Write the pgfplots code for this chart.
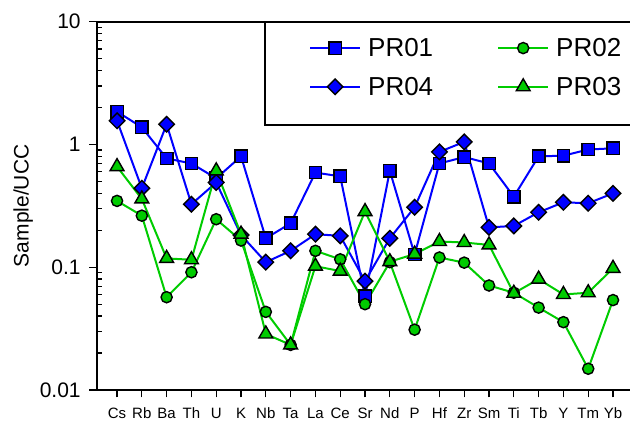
\documentclass[border=0pt]{standalone}
\usepackage{pgfplots}
\pgfplotsset{compat=1.18}
\usepackage{fontspec}
\setmainfont{Liberation Sans}
\definecolor{pblue}{RGB}{0,0,255}
\definecolor{pgreen}{RGB}{0,204,0}
\pgfplotstableread{
x PRa PRd PRb PRc
0  1.85  1.56  0.347  0.66
1  1.38  0.44  0.263  0.36
2  0.77  1.46  0.057  0.118
3  0.70  0.326 0.091  0.115
4  0.53  0.49  0.246  0.61
5  0.80  0.183 0.165  0.186
6  0.172 0.11  0.0433 0.0286
7  0.228 0.136 0.0233 0.0233
8  0.59  0.186 0.136  0.102
9  0.55  0.18  0.116  0.093
10 0.058 0.077 0.050  0.284
11 0.61  0.172 0.11   0.111
12 0.127 0.308 0.031  0.128
13 0.70  0.87  0.12   0.162
14 0.79  1.05  0.109  0.159
15 0.70  0.211 0.071  0.152
16 0.376 0.217 0.062  0.0614
17 0.80  0.28  0.0469 0.080
18 0.81  0.338 0.0357 0.060
19 0.91  0.332 0.0149 0.062
20 0.93  0.40  0.054  0.098
}\data
\begin{document}
\begin{tikzpicture}
\begin{axis}[
  scale only axis, width=543.6pt, height=368.3pt,
  clip=false,
  ymode=log, ymin=0.01, ymax=10,
  xmin=-0.82, xmax=21.1,
  xtick={0,...,20},
  xticklabels={Cs,Rb,Ba,Th,U,K,Nb,Ta,La,Ce,Sr,Nd,P,Hf,Zr,Sm,Ti,Tb,Y,Tm,Yb},
  ytick={0.01,0.1,1,10}, yticklabels={0.01,0.1,1,10},
  minor ytick={0.02,0.03,0.04,0.05,0.06,0.07,0.08,0.09,0.2,0.3,0.4,0.5,0.6,0.7,0.8,0.9,2,3,4,5,6,7,8,9},
  tick align=outside, xtick pos=left, ytick pos=left,
  major tick length=7.5pt, minor tick length=5pt,
  minor y tick style={xshift=5pt},
  every tick/.style={black, line width=1.3pt},
  axis line style={line width=2.2pt},
  x tick label style={font=\fontsize{15}{18}\selectfont, yshift=-7pt},
  y tick label style={font=\fontsize{21}{25}\selectfont, xshift=-5pt},
  ylabel={Sample/UCC}, ylabel style={font=\fontsize{21}{25}\selectfont},
  legend columns=2,
  legend image code/.code={\draw[mark repeat=2,mark phase=2,#1] plot coordinates {(0pt,0pt) (25pt,0pt) (50pt,0pt)};},
  legend style={draw=none, fill=none, inner sep=0pt, at={(rel axis cs:0.3905,0.961)}, anchor=north west,
    font=\fontsize{26}{31}\selectfont, row sep=15pt,
    /tikz/every odd column/.append style={column sep=5pt},
    /tikz/every even column/.append style={column sep=62pt}},
  legend cell align=left,
]
\addplot[pblue, line width=2pt, mark=square*, mark size=6.2pt, mark options={fill=pblue, draw=black, line width=1.4pt}, forget plot] table[x=x,y=PRa] {\data};
\addplot[pblue, line width=2pt, mark=square*, mark size=5.5pt, mark options={rotate=45, fill=pblue, draw=black, line width=1.4pt}, forget plot] table[x=x,y=PRd] {\data};
\addplot[pgreen, line width=2pt, mark=*, mark size=5.6pt, mark options={fill=pgreen, draw=black, line width=1.4pt}, forget plot] table[x=x,y=PRb] {\data};
\addplot[pgreen, line width=2pt, mark=triangle*, mark size=8pt, mark options={fill=pgreen, draw=black, line width=1.4pt}, forget plot] table[x=x,y=PRc] {\data};
\addlegendimage{pblue, line width=2pt, mark=square*, mark size=6.2pt, mark options={fill=pblue, draw=black, line width=1.4pt}}
\addlegendentry{PR01}
\addlegendimage{pgreen, line width=2pt, mark=*, mark size=5.6pt, mark options={fill=pgreen, draw=black, line width=1.4pt}}
\addlegendentry{PR02}
\addlegendimage{pblue, line width=2pt, mark=square*, mark size=5.5pt, mark options={rotate=45, fill=pblue, draw=black, line width=1.4pt}}
\addlegendentry{PR04}
\addlegendimage{pgreen, line width=2pt, mark=triangle*, mark size=8pt, mark options={fill=pgreen, draw=black, line width=1.4pt}}
\addlegendentry{PR03}
\draw[line width=2pt] (rel axis cs:0.3096,0.7195) rectangle (rel axis cs:1.1,1);
\coordinate (sw) at (rel axis cs:0,0);
\end{axis}
\pgfresetboundingbox
\path (sw) ++(-96.7pt,-35pt) rectangle ++(630pt,425pt);
\end{tikzpicture}
\end{document}
